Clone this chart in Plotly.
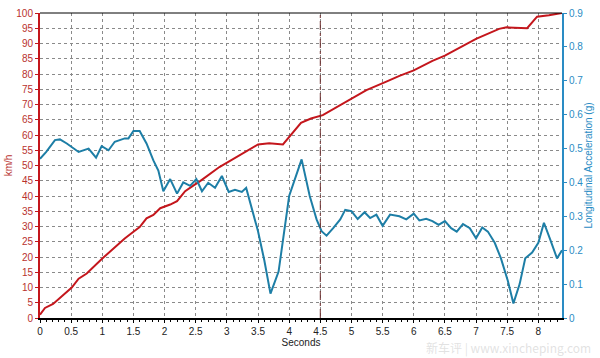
import plotly.graph_objects as go

# Speed (km/h) vs time (s)
t_speed = [0, 0.08, 0.21, 0.37, 0.51, 0.62, 0.75, 1.0, 1.18, 1.36, 1.5, 1.6, 1.71, 1.82,
           1.93, 2.09, 2.2, 2.33, 2.49, 2.57, 2.88, 3.2, 3.5, 3.68, 3.9, 4.19, 4.35, 4.54,
           4.97, 5.24, 5.56, 5.77, 6.0, 6.3, 6.5, 7.0, 7.37, 7.49, 7.82, 7.98, 8.17, 8.38]
speed = [1.1, 3.3, 4.6, 7.4, 10, 12.9, 14.6, 19.5, 22.8, 26.1, 28.3, 29.8, 32.7, 33.8,
         36, 37.2, 38.3, 41.6, 43.8, 44.9, 49.5, 53.3, 56.9, 57.3, 56.9, 64, 65.4, 66.5,
         71.4, 74.7, 77.5, 79.4, 81.2, 84.3, 86, 91.5, 94.8, 95.3, 95, 98.8, 99.3, 100]

# Longitudinal acceleration (g) vs time (s)
t_acc = [0, 0.1, 0.24, 0.32, 0.43, 0.62, 0.78, 0.9, 0.99, 1.1, 1.2, 1.36, 1.42, 1.5, 1.6,
         1.71, 1.82, 1.9, 1.98, 2.09, 2.2, 2.3, 2.41, 2.51, 2.6, 2.7, 2.81, 2.92, 3.03, 3.13,
         3.24, 3.31, 3.5, 3.6, 3.7, 3.83, 4.0, 4.12, 4.2, 4.33, 4.44, 4.52, 4.6, 4.71, 4.82,
         4.9, 5.0, 5.1, 5.21, 5.3, 5.4, 5.5, 5.62, 5.77, 5.88, 6.0, 6.09, 6.2, 6.3, 6.4,
         6.5, 6.6, 6.69, 6.79, 6.9, 7.0, 7.1, 7.19, 7.3, 7.4, 7.51, 7.6, 7.7, 7.79, 7.9,
         8.0, 8.09, 8.19, 8.3, 8.38]
acc = [0.47, 0.49, 0.525, 0.527, 0.515, 0.49, 0.5, 0.473, 0.507, 0.495, 0.52, 0.53, 0.53,
       0.552, 0.552, 0.515, 0.465, 0.435, 0.374, 0.41, 0.367, 0.4, 0.39, 0.41, 0.374, 0.399,
       0.384, 0.419, 0.372, 0.378, 0.372, 0.384, 0.256, 0.171, 0.072, 0.137, 0.36, 0.428,
       0.468, 0.36, 0.291, 0.256, 0.243, 0.266, 0.291, 0.319, 0.315, 0.292, 0.312, 0.295,
       0.305, 0.272, 0.305, 0.3, 0.291, 0.308, 0.288, 0.293, 0.286, 0.275, 0.286, 0.265,
       0.255, 0.277, 0.265, 0.235, 0.267, 0.255, 0.222, 0.176, 0.11, 0.043, 0.1, 0.176,
       0.193, 0.222, 0.281, 0.232, 0.176, 0.2]

x_ticks = [0, 0.5, 1, 1.5, 2, 2.5, 3, 3.5, 4, 4.5, 5, 5.5, 6, 6.5, 7, 7.5, 8]
marker_time = 4.5

RED = "#c4161c"
RED_TXT = "#b8322e"
BLUE = "#1d7ea6"
BLUE_TXT = "#2a8cc4"
GRID = "#8a8a8a"
FONT = "Liberation Sans"

fig = go.Figure()
fig.add_trace(go.Scatter(x=t_speed, y=speed, mode="lines",
                         line=dict(color=RED, width=2), yaxis="y", showlegend=False))
fig.add_trace(go.Scatter(x=t_acc, y=acc, mode="lines",
                         line=dict(color=BLUE, width=2), yaxis="y2", showlegend=False))

fig.update_layout(
    width=600, height=358,
    margin=dict(l=40, r=38, t=13, b=40),
    paper_bgcolor="white", plot_bgcolor="white",
    font=dict(family=FONT, size=10, color="#222"),
    xaxis=dict(range=[0, 8.38], tickvals=x_ticks, ticktext=[f"{v:g}" for v in x_ticks],
               automargin=False,
               showline=True, linecolor="black", linewidth=2,
               ticks="outside", ticklen=3, tickcolor="black",
               minor=dict(dtick=0.1, ticks="outside", ticklen=2, tickcolor="black", showgrid=False),
               showgrid=True, gridcolor=GRID, griddash="3px,3px", gridwidth=1,
               zeroline=False,
               title=dict(text="Seconds", font=dict(size=10, color="#222"), standoff=2),
               tickfont=dict(size=10, color="#222")),
    yaxis=dict(range=[0, 100], dtick=5, showline=True, linecolor=RED, linewidth=2,
               automargin=False,
               ticks="outside", ticklen=3, tickcolor=RED,
               showgrid=True, gridcolor=GRID, griddash="3px,3px", gridwidth=1,
               zeroline=False, tickfont=dict(size=10, color=RED_TXT),
               title=dict(text="km/h", font=dict(size=10, color=RED_TXT), standoff=2)),
    yaxis2=dict(range=[0, 0.9], dtick=0.1, overlaying="y", side="right",
                automargin=False,
                showline=True, linecolor=BLUE_TXT, linewidth=2,
                ticks="outside", ticklen=3, tickcolor=BLUE_TXT,
                showgrid=False, zeroline=False, tickfont=dict(size=10, color=BLUE_TXT),
                title=dict(text="Longitudinal Acceleration (g)",
                           font=dict(size=10, color=BLUE_TXT), standoff=2)),
)

# top border
fig.add_shape(type="line", xref="paper", yref="paper", x0=0, x1=1, y0=1, y1=1,
              line=dict(color="black", width=1))
# vertical marker line
fig.add_shape(type="line", xref="x", yref="paper", x0=marker_time, x1=marker_time, y0=0, y1=1,
              line=dict(color="#6b2b2b", width=1, dash="dashdot"))

# faint watermark
fig.add_annotation(text="新车评 | www.xincheping.com", xref="paper", yref="paper",
                   x=1.06, y=-0.098, xanchor="right", yanchor="middle", showarrow=False,
                   font=dict(family="Noto Sans CJK SC", size=12, color="rgba(190,190,190,0.45)"))

fig.write_html("out.html", config={"displayModeBar": False},
               post_script="document.body.style.margin='0';document.body.style.overflow='hidden';")
